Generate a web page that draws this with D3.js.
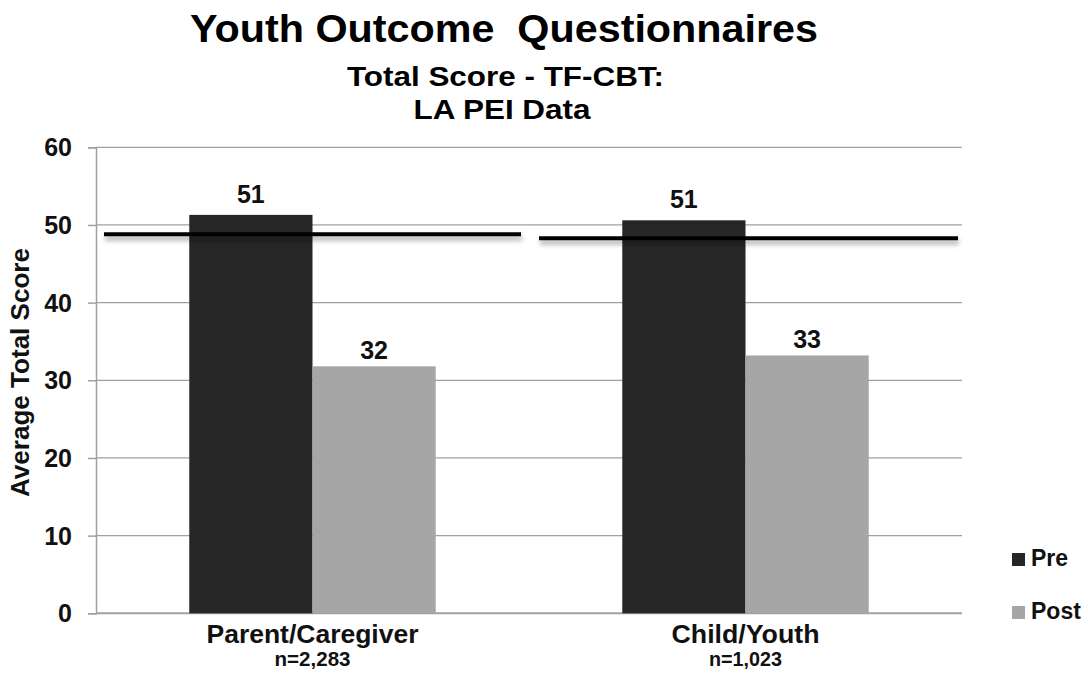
<!DOCTYPE html>
<html>
<head>
<meta charset="utf-8">
<script src="https://cdn.jsdelivr.net/npm/d3@7"></script>
<style>
  html, body { margin: 0; padding: 0; background: #fff; }
  svg { display: block; font-family: "Liberation Sans", Arial, sans-serif; }
</style>
</head>
<body>
<svg id="chart" width="1088" height="685"></svg>
<script>
const categories = ["Parent/Caregiver", "Child/Youth"];
const sampleSizes = ["n=2,283", "n=1,023"];
const seriesNames = ["Pre", "Post"];
const preValues = [51.3, 50.6];
const postValues = [31.8, 33.2];
const preLabels = ["51", "51"];
const postLabels = ["32", "33"];
const benchmarkValues = [48.8, 48.3];
const yTicks = [0, 10, 20, 30, 40, 50, 60];
const titleLines = ["Youth Outcome  Questionnaires", "Total Score - TF-CBT:", "LA PEI Data"];
const yAxisTitle = "Average Total Score";

const colors = { Pre: "#262626", Post: "#a6a6a6" };
const gridColor = "#a0a0a0";
const textColor = "#111";

const svg = d3.select("#chart");
const W = 1088, H = 685;
const margin = { left: 96, right: W - 962, top: 147.3, bottom: H - 613.3 };

const defs = svg.append("defs");
const f = defs.append("filter").attr("id", "shadow").attr("filterUnits", "userSpaceOnUse")
  .attr("x", 0).attr("y", 0).attr("width", W).attr("height", H);
f.append("feDropShadow").attr("dx", 1).attr("dy", 4).attr("stdDeviation", 2.5)
  .attr("flood-color", "#000").attr("flood-opacity", 0.35);

const x = d3.scaleBand().domain(categories).range([margin.left, W - margin.right]).paddingInner(0).paddingOuter(0);
const xs = d3.scaleBand().domain(seriesNames).range([0, x.bandwidth()]).paddingInner(0).paddingOuter(0.757);
const y = d3.scaleLinear().domain([0, 60]).range([H - margin.bottom, margin.top]);

// y axis
const yAxis = d3.axisLeft(y).tickValues(yTicks).tickSize(8).tickPadding(16).tickFormat(d3.format("d"));
const gy = svg.append("g").attr("transform", `translate(${margin.left},0)`).call(yAxis);
gy.select(".domain").attr("stroke", gridColor).attr("stroke-width", 1.5);
gy.selectAll(".tick line").attr("stroke", gridColor).attr("stroke-width", 1.5);
gy.selectAll(".tick text").attr("font-size", 25).attr("font-weight", "bold").attr("fill", textColor)
  .attr("font-family", "Liberation Sans, Arial, sans-serif").attr("dy", "0.34em");

// gridlines
svg.append("g").selectAll("line").data(yTicks).join("line")
  .attr("x1", margin.left).attr("x2", W - margin.right)
  .attr("y1", d => y(d)).attr("y2", d => y(d))
  .attr("stroke", gridColor).attr("stroke-width", d => d === 0 ? 2 : 1.2);

// bars
const rows = categories.map((c, i) => ({ cat: c, Pre: preValues[i], Post: postValues[i], labels: { Pre: preLabels[i], Post: postLabels[i] } }));
const groups = svg.append("g").selectAll("g").data(rows).join("g").attr("transform", d => `translate(${x(d.cat)},0)`);
groups.selectAll("rect").data(d => seriesNames.map(s => ({ s, v: d[s] }))).join("rect")
  .attr("x", d => xs(d.s)).attr("width", xs.bandwidth())
  .attr("y", d => y(d.v)).attr("height", d => y(0) - y(d.v))
  .attr("fill", d => colors[d.s]);

// benchmark lines
const insets = [[8, 8], [10, 4]];
svg.append("g").selectAll("line").data(categories.map((c, i) => ({ c, i, v: benchmarkValues[i] }))).join("line")
  .attr("x1", d => x(d.c) + insets[d.i][0]).attr("x2", d => x(d.c) + x.bandwidth() - insets[d.i][1])
  .attr("y1", d => y(d.v)).attr("y2", d => y(d.v))
  .attr("stroke", "#000").attr("stroke-width", 4).attr("filter", "url(#shadow)");

// value labels
groups.selectAll("text.val").data(d => seriesNames.map(s => ({ s, v: d[s], t: d.labels[s] }))).join("text")
  .attr("class", "val")
  .attr("x", d => xs(d.s) + xs.bandwidth() / 2).attr("y", d => y(d.v) - (d.s === "Pre" ? 12 : 7))
  .attr("text-anchor", "middle").attr("font-size", 25).attr("font-weight", "bold").attr("fill", textColor)
  .text(d => d.t);

// category labels
const catWidths = [212, 148];
const nWidths = [76, 73];
const xl = svg.append("g").selectAll("g").data(categories).join("g");
xl.append("text").attr("x", d => x(d) + x.bandwidth() / 2).attr("y", 643)
  .attr("text-anchor", "middle").attr("font-size", 25).attr("font-weight", "bold").attr("fill", textColor)
  .attr("textLength", (d, i) => catWidths[i]).attr("lengthAdjust", "spacingAndGlyphs")
  .text(d => d);
xl.append("text").attr("x", d => x(d) + x.bandwidth() / 2).attr("y", 666)
  .attr("text-anchor", "middle").attr("font-size", 20).attr("font-weight", "bold").attr("fill", textColor)
  .attr("textLength", (d, i) => nWidths[i]).attr("lengthAdjust", "spacingAndGlyphs")
  .text((d, i) => sampleSizes[i]);

// y axis title
svg.append("text").attr("transform", `translate(29, 372.5) rotate(-90)`)
  .attr("text-anchor", "middle").attr("font-size", 25).attr("font-weight", "bold").attr("fill", textColor)
  .attr("textLength", 249).attr("lengthAdjust", "spacingAndGlyphs")
  .text(yAxisTitle);

// titles
svg.append("text").attr("x", 504).attr("y", 42).attr("text-anchor", "middle").attr("font-size", 38).attr("font-weight", "bold").attr("fill", "#000")
  .attr("xml:space", "preserve").attr("textLength", 628).attr("lengthAdjust", "spacingAndGlyphs").text(titleLines[0]);
svg.append("text").attr("x", 505.5).attr("y", 86).attr("text-anchor", "middle").attr("font-size", 28).attr("font-weight", "bold").attr("fill", "#000")
  .attr("textLength", 317).attr("lengthAdjust", "spacingAndGlyphs").text(titleLines[1]);
svg.append("text").attr("x", 502).attr("y", 119).attr("text-anchor", "middle").attr("font-size", 28).attr("font-weight", "bold").attr("fill", "#000")
  .attr("textLength", 177).attr("lengthAdjust", "spacingAndGlyphs").text(titleLines[2]);

// legend
const lg = svg.append("g").selectAll("g").data(seriesNames).join("g").attr("transform", (d, i) => `translate(1012, ${553 + i * 53})`);
lg.append("rect").attr("width", 13).attr("height", 13).attr("fill", d => colors[d]);
lg.append("text").attr("x", 19).attr("y", 13).attr("font-size", 23).attr("font-weight", "bold").attr("fill", textColor).text(d => d);
</script>
</body>
</html>
